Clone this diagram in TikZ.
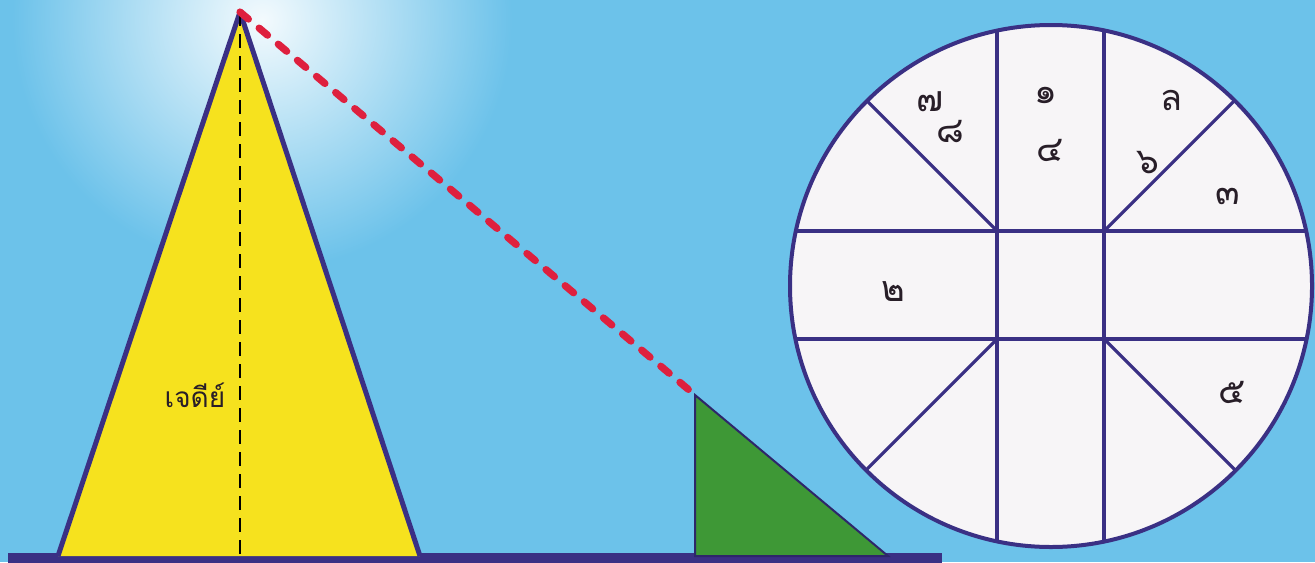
\documentclass[tikz,border=0pt]{standalone}
\usepackage{fontspec}
\newfontfamily\thaifont[Script=Thai]{Loma}
\usetikzlibrary{calc,positioning}
\definecolor{sky}{RGB}{108,194,234}
\definecolor{navy}{RGB}{58,48,132}
\definecolor{pagoda}{RGB}{246,226,30}
\definecolor{grass}{RGB}{62,152,54}
\definecolor{rope}{RGB}{222,32,62}
\definecolor{paper}{RGB}{247,245,247}
\definecolor{ink}{RGB}{40,30,40}

\begin{document}
\begin{tikzpicture}[x=0.5pt,y=-0.5pt,
  outline/.style={draw=navy,line width=2.5pt,line join=round},
  chord/.style={draw=navy,line width=1.6pt},
  digit/.style={font=\thaifont\fontsize{18}{20}\selectfont,text=ink,inner sep=0pt}]
  \useasboundingbox (0,0) rectangle (1315,562);
  \clip (0,0) rectangle (1315,562);
  % sky
  \fill[sky] (0,0) rectangle (1315,562);
  \shade[inner color=sky!8!white,outer color=sky] (262,20) circle (250);
  % ground
  \fill[navy] (8,553) rectangle (942,566);
  % pagoda
  \coordinate (apex) at (240,12);
  \coordinate (foot) at (240,556);
  \coordinate (baseL) at (58,556);
  \coordinate (baseR) at (420,556);
  \filldraw[outline,fill=pagoda] (baseL) -- (apex) -- (baseR);
  \draw[black,line width=1pt,dash pattern=on 7pt off 4pt] (apex) -- (foot);
  \node[font=\thaifont\fontsize{14}{16}\selectfont,text=ink] (name) at (195,395) {เจดีย์};
  % pole and its shadow
  \coordinate (top) at (695,395);
  \coordinate (corner) at (695,556);
  \coordinate (tip) at (888,556);
  \filldraw[draw=navy!80!black,line width=1pt,fill=grass] (corner) -- (top) -- (tip) -- cycle;
  \draw[rope,line width=3.6pt,line cap=round,dash pattern=on 5.5pt off 7pt] (apex) -- (top);
  % chart
  \coordinate (C) at (1051,286);
  \coordinate (q1) at (997,231);
  \coordinate (q2) at (1104,231);
  \coordinate (q3) at (997,339);
  \coordinate (q4) at (1104,339);
  \fill[paper] (C) circle (261);
  \begin{scope}
    \clip (C) circle (261);
    \draw[chord] (q1) -- ++(0,-300) (q1) -- ++(0,400);
    \draw[chord] (q2) -- ++(0,-300) (q2) -- ++(0,400);
    \draw[chord] (q1) -- ++(-300,0) (q1) -- ++(400,0);
    \draw[chord] (q3) -- ++(-300,0) (q3) -- ++(400,0);
    \draw[chord] (q1) -- ++(-250,-250);
    \draw[chord] (q2) -- ++(250,-250);
    \draw[chord] (q3) -- ++(-250,250);
    \draw[chord] (q4) -- ++(250,250);
  \end{scope}
  \draw[navy,line width=2pt] (C) circle (261);
  \foreach \x/\y/\txt/\name in {930/102/๗/d7,950/132/๘/d8,1046/95/๑/d1,1050/150/๔/d4,
      1172/100/ล/dl,1148/163/๖/d6,1228/196/๓/d3,893/292/๒/d2,1232/392/๕/d5}
    {\node[digit] (\name) at (\x,\y) {\txt};}
\end{tikzpicture}
\end{document}
